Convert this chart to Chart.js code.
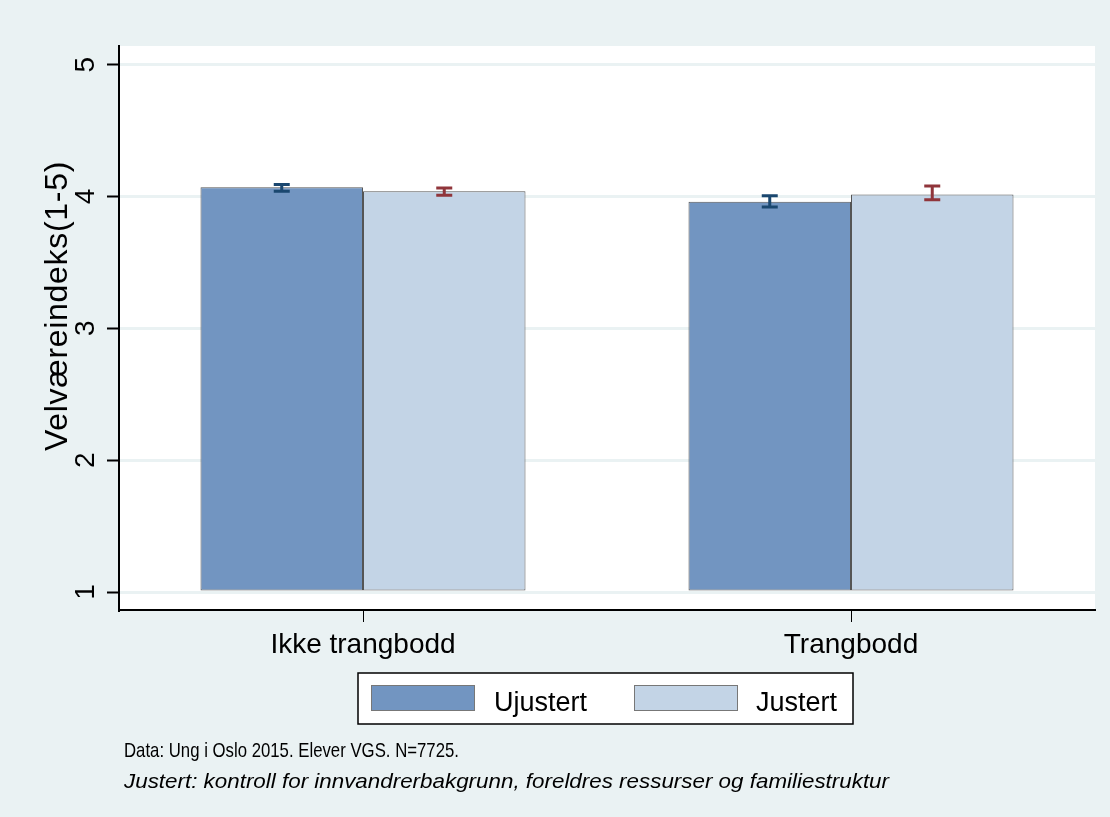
<!DOCTYPE html>
<html>
<head>
<meta charset="utf-8">
<title>Velværeindeks</title>
<script src="https://cdn.jsdelivr.net/npm/chart.js@4.4.1/dist/chart.umd.min.js"></script>
<style>
    html, body {
        margin: 0;
        padding: 0;
        background: #eaf2f3;
    }
    #wrap {
        position: relative;
        width: 1110px;
        height: 817px;
    }
</style>
</head>
<body>
<div id="wrap">
    <canvas id="velvaereChart" width="1110" height="817"></canvas>
</div>
<script>
// Chart data
const categories = ['Ikke trangbodd', 'Trangbodd'];
const seriesNames = ['Ujustert', 'Justert'];
const ujustert = [4.07, 3.96];
const justert = [4.04, 4.015];
// Confidence intervals (low / high)
const ujustertLow = [4.04, 3.92];
const ujustertHigh = [4.09, 4.005];
const justertLow = [4.01, 3.975];
const justertHigh = [4.065, 4.08];
const yTicks = [1, 2, 3, 4, 5];
const yTitle = 'Velværeindeks(1-5)';
const notes = [
    'Data: Ung i Oslo 2015. Elever VGS. N=7725.',
    'Justert: kontroll for innvandrerbakgrunn, foreldres ressurser og familiestruktur'
];

const FONT = "'Liberation Sans', Arial, sans-serif";
const BG = '#eaf2f3';
const errorColors = ['#1a476f', '#90353b'];
const errorData = [[ujustertLow, ujustertHigh], [justertLow, justertHigh]];

// White plot region behind everything
const plotBackground = {
    id: 'plotBackground',
    beforeDraw(chart) {
        const { ctx, chartArea } = chart;
        ctx.save();
        ctx.fillStyle = '#ffffff';
        ctx.fillRect(chartArea.left, chartArea.top, chartArea.right - chartArea.left, chartArea.bottom - chartArea.top);
        ctx.restore();
    }
};

// Error bars with caps, drawn on top of the bars
const errorBars = {
    id: 'errorBars',
    afterDatasetsDraw(chart) {
        const { ctx } = chart;
        const yScale = chart.scales.y;
        ctx.save();
        chart.data.datasets.forEach((ds, i) => {
            const meta = chart.getDatasetMeta(i);
            const [lows, highs] = errorData[i];
            ctx.strokeStyle = errorColors[i];
            ctx.lineWidth = 3;
            meta.data.forEach((bar, j) => {
                const x = bar.x;
                const yLo = yScale.getPixelForValue(lows[j]);
                const yHi = yScale.getPixelForValue(highs[j]);
                ctx.beginPath();
                ctx.moveTo(x, yLo);
                ctx.lineTo(x, yHi);
                ctx.moveTo(x - 8, yLo);
                ctx.lineTo(x + 8, yLo);
                ctx.moveTo(x - 8, yHi);
                ctx.lineTo(x + 8, yHi);
                ctx.stroke();
            });
        });
        ctx.restore();
    }
};

// Draw a text line squeezed horizontally to a given width
function fillTextToWidth(ctx, text, x, y, width) {
    const w = ctx.measureText(text).width;
    ctx.save();
    ctx.translate(x, y);
    ctx.scale(width / w, 1);
    ctx.fillText(text, 0, 0);
    ctx.restore();
}

// Rotated y axis title, legend box and notes
const extras = {
    id: 'extras',
    afterDraw(chart) {
        const { ctx } = chart;

        // y axis title
        ctx.save();
        ctx.translate(67, 306);
        ctx.rotate(-Math.PI / 2);
        ctx.font = '32px ' + FONT;
        ctx.letterSpacing = '0.7px';
        ctx.fillStyle = '#000';
        ctx.textAlign = 'center';
        ctx.textBaseline = 'alphabetic';
        ctx.fillText(yTitle, 0, 0);
        ctx.restore();

        // legend
        ctx.save();
        ctx.fillStyle = '#ffffff';
        ctx.fillRect(358, 673, 495, 51);
        ctx.strokeStyle = '#000';
        ctx.lineWidth = 1.5;
        ctx.strokeRect(358, 673, 495, 51);
        const swatchX = [371, 634];
        const textX = [494, 756];
        ctx.font = '27px ' + FONT;
        ctx.textBaseline = 'alphabetic';
        chart.data.datasets.forEach((ds, i) => {
            ctx.fillStyle = ds.backgroundColor;
            ctx.fillRect(swatchX[i], 685, 104, 26);
            ctx.strokeStyle = '#777';
            ctx.lineWidth = 1;
            ctx.strokeRect(swatchX[i] + 0.5, 685.5, 103, 25);
            ctx.fillStyle = '#000';
            ctx.fillText(ds.label, textX[i], 711);
        });
        ctx.restore();

        // notes below the legend
        ctx.save();
        ctx.fillStyle = '#000';
        ctx.textBaseline = 'alphabetic';
        ctx.font = '21px ' + FONT;
        fillTextToWidth(ctx, notes[0], 124, 757, 335);
        ctx.font = 'italic 21px ' + FONT;
        fillTextToWidth(ctx, notes[1], 124, 788, 765);
        ctx.restore();
    }
};

function renderChart() {
    const ctx = document.getElementById('velvaereChart').getContext('2d');

    new Chart(ctx, {
        type: 'bar',
        data: {
            labels: categories,
            datasets: [
                {
                    label: seriesNames[0],
                    data: ujustert,
                    backgroundColor: '#7295c1',
                    borderColor: '#555555',
                    borderWidth: 1,
                    borderSkipped: false,
                    base: 1
                },
                {
                    label: seriesNames[1],
                    data: justert,
                    backgroundColor: '#c3d4e6',
                    borderColor: '#555555',
                    borderWidth: 1,
                    borderSkipped: false,
                    base: 1
                }
            ]
        },
        options: {
            responsive: false,
            animation: false,
            layout: {
                padding: { left: 0, top: 46, right: 15, bottom: 0 }
            },
            datasets: {
                bar: {
                    categoryPercentage: 0.666,
                    barPercentage: 1.0
                }
            },
            plugins: {
                legend: { display: false },
                tooltip: { enabled: false }
            },
            scales: {
                x: {
                    grid: {
                        display: true,
                        drawOnChartArea: false,
                        drawTicks: true,
                        tickLength: 12,
                        tickColor: '#000',
                        tickWidth: 1,
                        offset: false
                    },
                    border: { display: true, color: '#000', width: 2 },
                    ticks: {
                        color: '#000',
                        font: { family: FONT, size: 28 },
                        padding: 6
                    },
                    afterFit(scale) {
                        scale.height = 207;
                    }
                },
                y: {
                    min: 0.864,
                    max: 5.141,
                    afterBuildTicks(scale) {
                        scale.ticks = yTicks.map(v => ({ value: v }));
                    },
                    grid: {
                        color: BG,
                        lineWidth: 3,
                        drawTicks: true,
                        tickLength: 12,
                        tickColor: '#000',
                        tickWidth: 2
                    },
                    border: { display: true, color: '#000', width: 2 },
                    ticks: {
                        color: '#000',
                        font: { family: FONT, size: 28 },
                        minRotation: 90,
                        maxRotation: 90,
                        crossAlign: 'center',
                        padding: 13
                    },
                    afterFit(scale) {
                        scale.width = 119;
                    }
                }
            }
        },
        plugins: [plotBackground, errorBars, extras]
    });
}

document.addEventListener('DOMContentLoaded', renderChart);
</script>
</body>
</html>
